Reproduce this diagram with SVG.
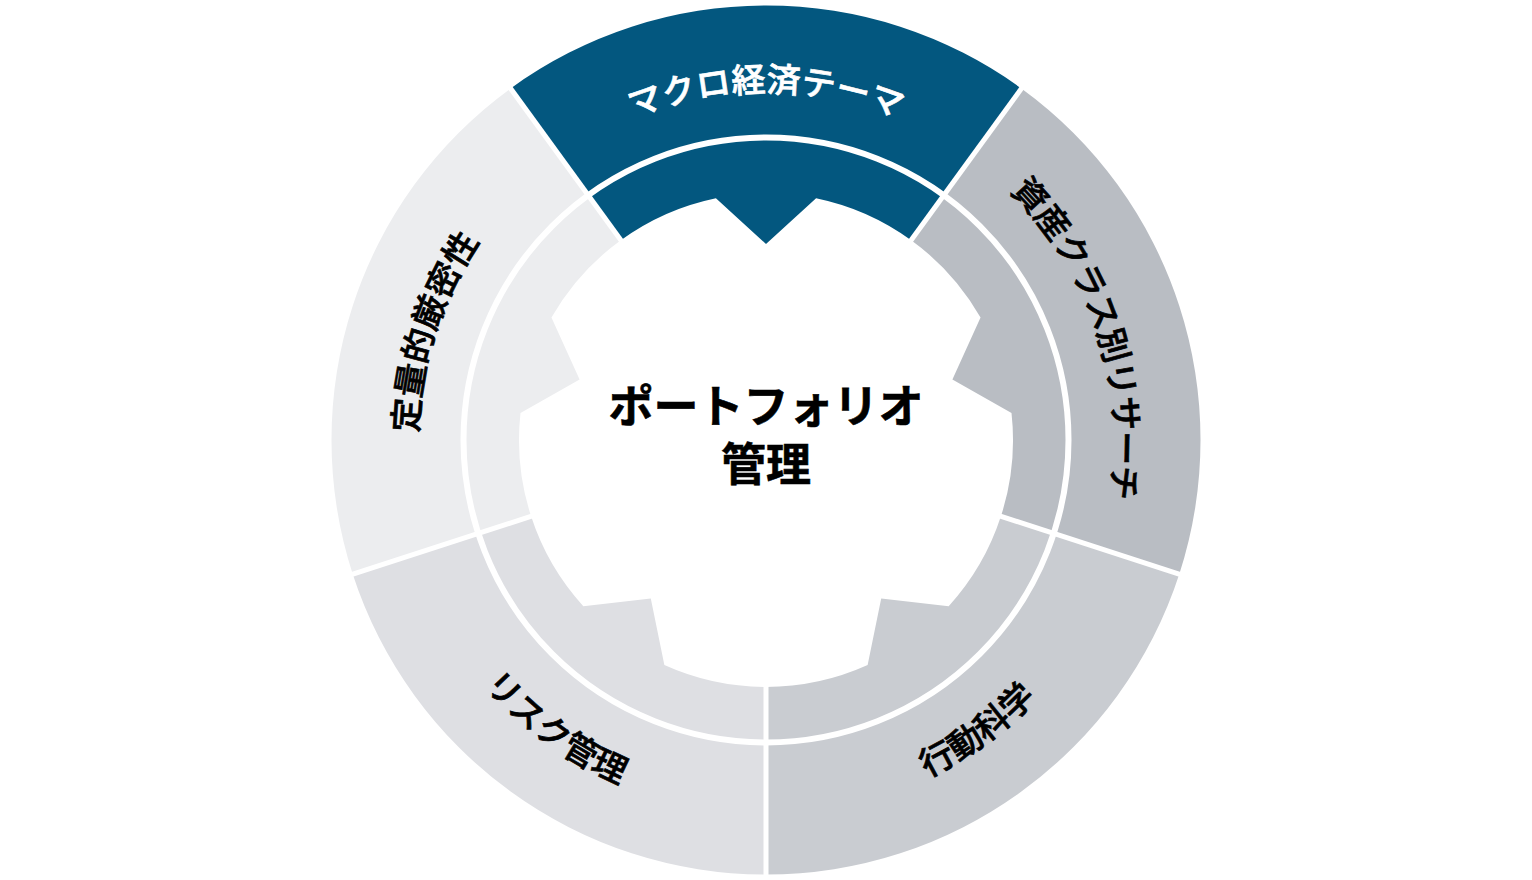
<svg xmlns="http://www.w3.org/2000/svg" xmlns:xlink="http://www.w3.org/1999/xlink" width="1532" height="880" viewBox="0 0 1532 880">
  <style>
    .lbl { font-family: "Noto Sans CJK JP", "Noto Sans", sans-serif; font-size: 34px; font-weight: 500; stroke-width: 0.7px; }
    .dark { fill: #000000; stroke: #000000; }
    .light { fill: #ffffff; stroke: #ffffff; }
    .title { font-family: "Noto Sans CJK JP", "Noto Sans", sans-serif; font-size: 45px; font-weight: 700; fill: #000000; stroke: #000000; stroke-width: 0.6px; }
    .sep { stroke: #ffffff; fill: none; }
  </style>
  <defs>
    <path id="tp-top" d="M561.45,158.46 A348,348 0 0 1 970.55,158.46"/>
    <path id="tp-left" d="M435.03,547.54 A348,348 0 0 1 561.45,158.46"/>
    <path id="tp-right" d="M970.55,158.46 A348,348 0 0 1 1096.97,547.54"/>
    <path id="tp-bl" d="M410.30,555.57 A374,374 0 0 0 766,814"/>
    <path id="tp-br" d="M766,814 A374,374 0 0 0 1121.70,555.57"/>
  </defs>
  <rect width="1532" height="880" fill="#ffffff"/>

  <g id="node-macro">
    <path fill="#03577F" d="M510.61,88.48 A434.5,434.5 0 0 1 1021.39,88.48 L911.18,240.17 A247,247 0 0 0 816.09,198.13 L766,244 L715.91,198.13 A247,247 0 0 0 620.82,240.17 Z"/>
    <text class="lbl light"><textPath xlink:href="#tp-top" href="#tp-top" startOffset="50%" text-anchor="middle">マクロ経済テーマ</textPath></text>
  </g>

  <g id="node-asset-class">
    <path fill="#B9BDC3" d="M1021.39,88.48 A434.5,434.5 0 0 1 1179.24,574.27 L1000.91,516.33 A247,247 0 0 0 1011.51,412.90 L952.41,379.43 L980.55,317.62 A247,247 0 0 0 911.18,240.17 Z"/>
    <text class="lbl dark" letter-spacing="-0.5"><textPath xlink:href="#tp-right" href="#tp-right" startOffset="50%" text-anchor="middle">資産クラス別リサーチ</textPath></text>
  </g>

  <g id="node-behavioral">
    <path fill="#C9CCD1" d="M1179.24,574.27 A434.5,434.5 0 0 1 766,874.5 L766,687 A247,247 0 0 0 867.64,665.12 L881.21,598.57 L948.69,606.23 A247,247 0 0 0 1000.91,516.33 Z"/>
    <text class="lbl dark"><textPath xlink:href="#tp-br" href="#tp-br" startOffset="50%" text-anchor="middle">行動科学</textPath></text>
  </g>

  <g id="node-risk">
    <path fill="#DEDFE3" d="M766,874.5 A434.5,434.5 0 0 1 352.76,574.27 L531.09,516.33 A247,247 0 0 0 583.31,606.23 L650.79,598.57 L664.36,665.12 A247,247 0 0 0 766,687 Z"/>
    <text class="lbl dark"><textPath xlink:href="#tp-bl" href="#tp-bl" startOffset="50%" text-anchor="middle">リスク管理</textPath></text>
  </g>

  <g id="node-quant">
    <path fill="#ECEDEF" d="M352.76,574.27 A434.5,434.5 0 0 1 510.61,88.48 L620.82,240.17 A247,247 0 0 0 551.45,317.62 L579.59,379.43 L520.49,412.90 A247,247 0 0 0 531.09,516.33 Z"/>
    <text class="lbl dark"><textPath xlink:href="#tp-left" href="#tp-left" startOffset="50%" text-anchor="middle">定量的厳密性</textPath></text>
  </g>

  <g id="connectors">
    <circle class="sep" cx="766" cy="440" r="302.5" stroke-width="6"/>
    <line class="sep" x1="994.25" y1="514.16" x2="1184.47" y2="575.97" stroke-width="5"/>
    <line class="sep" x1="766" y1="680" x2="766" y2="880" stroke-width="5"/>
    <line class="sep" x1="537.75" y1="514.16" x2="347.53" y2="575.97" stroke-width="5"/>
    <line class="sep" x1="624.93" y1="245.84" x2="507.37" y2="84.03" stroke-width="5"/>
    <line class="sep" x1="907.07" y1="245.84" x2="1024.63" y2="84.03" stroke-width="5"/>
  </g>

  <g id="node-center">
    <text class="title" text-anchor="middle"><tspan x="766" y="423">ポートフォリオ</tspan><tspan x="766" y="481">管理</tspan></text>
  </g>
</svg>
